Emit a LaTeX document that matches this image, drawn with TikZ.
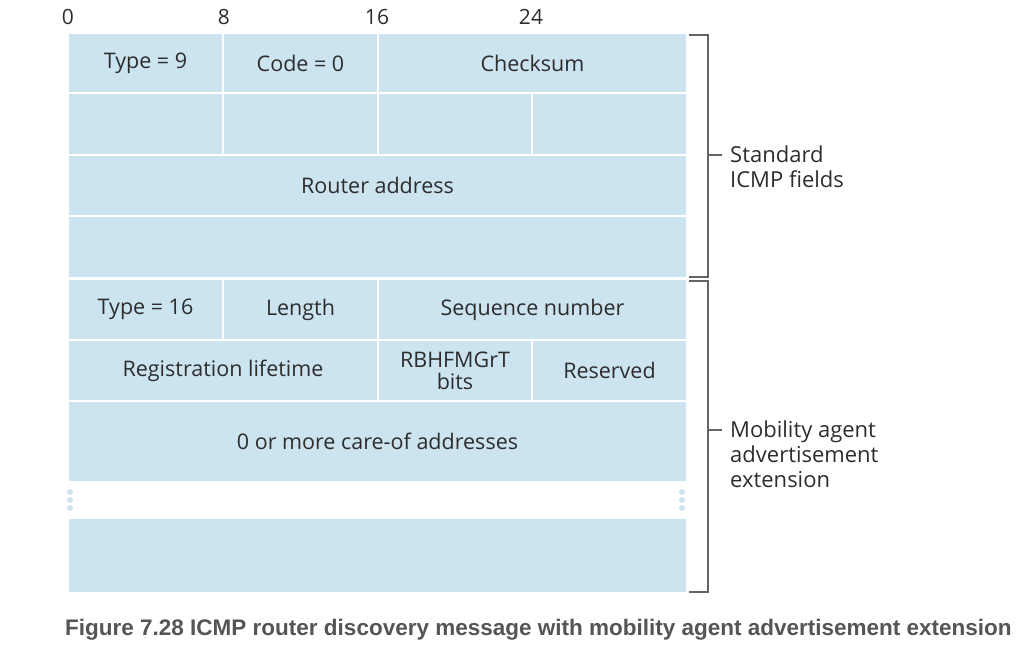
\documentclass[tikz,border=0pt]{standalone}
\usepackage{fontspec}
\setmainfont{Open Sans}
\newfontfamily\capfont{Liberation Sans}
\definecolor{cellblue}{RGB}{204,227,240}
\definecolor{txt}{RGB}{45,45,45}
\definecolor{brk}{RGB}{100,100,100}
\definecolor{capgray}{RGB}{85,85,85}
\newcommand\mycell[6]{%
  \node[cell, minimum width={#4pt-#2pt}, minimum height={#5pt-#3pt}]
    (#1) at ({(#2+#4)/2},{(#3+#5)/2}) {#6};}
\begin{document}
\begin{tikzpicture}[x=1pt,y=-1pt,
  cell/.style={rectangle, fill=cellblue, draw=white, line width=2pt, inner sep=0pt,
    text=txt, font=\fontsize{21.5}{24}\selectfont, align=center},
  bit/.style={text=txt, font=\fontsize{21}{24}\selectfont, inner sep=0pt},
  brkline/.style={draw=brk, line width=1.3pt},
  lab/.style={anchor=north west, text=txt, font=\fontsize{22}{25}\selectfont, align=left, inner sep=0pt},
  dot/.style={circle, fill=cellblue, inner sep=0pt, minimum size=6pt}]
\useasboundingbox (0,0) rectangle (1025,648);
% bit numbers
\node[bit] (b0) at (68,17) {0};
\node[bit] (b8) at (224,17) {8};
\node[bit] (b16) at (377,17) {16};
\node[bit] (b24) at (531,17) {24};
% rows
\mycell{type9}{68}{33}{223}{93}{Type = 9}
\mycell{code}{223}{33}{378}{93}{Code = 0}
\mycell{cks}{378}{33}{687}{93}{Checksum}
\mycell{e1}{68}{93}{223}{155}{}
\mycell{e2}{223}{93}{378}{155}{}
\mycell{e3}{378}{93}{532}{155}{}
\mycell{e4}{532}{93}{687}{155}{}
\mycell{router}{68}{155}{687}{216}{Router address}
\mycell{e5}{68}{216}{687}{278}{}
\mycell{type16}{68}{279}{223}{340}{Type = 16}
\mycell{len}{223}{279}{378}{340}{Length}
\mycell{seq}{378}{279}{687}{340}{Sequence number}
\mycell{reg}{68}{340}{378}{401}{Registration lifetime}
\mycell{bits}{378}{340}{532}{401}{RBHFMGrT\\[-2pt]bits}
\mycell{res}{532}{340}{687}{401}{Reserved}
\mycell{coa}{68}{401}{687}{482}{0 or more care-of addresses}
\mycell{last}{68}{518}{687}{593}{}
% dots
\foreach \yy [count=\i] in {492,500,508}{
  \node[dot] (ld\i) at (70,\yy) {};
  \node[dot] (rd\i) at (682,\yy) {};
}
% brackets
\coordinate (s1) at (708,155);
\coordinate (s2) at (708,430);
\node[lab] (std) at (730,146) {Standard\\ICMP fields};
\node[lab] (mob) at (730,421) {Mobility agent\\advertisement\\extension};
\path[brkline] (689,35) -- (708,35) -- (708,277) -- (689,277);
\path[brkline] (689,281) -- (708,281) -- (708,592) -- (689,592);
\path[brkline] ([xshift=-0.6pt]s1) -- (722,155);
\path[brkline] ([xshift=-0.6pt]s2) -- (722,430);
% caption
\node[anchor=west, text=capgray, inner sep=0pt, font=\capfont\bfseries\fontsize{22.5}{26}\selectfont] (cap) at (65,630)
  {Figure 7.28 ICMP router discovery message with mobility agent advertisement extension};
\end{tikzpicture}
\end{document}
